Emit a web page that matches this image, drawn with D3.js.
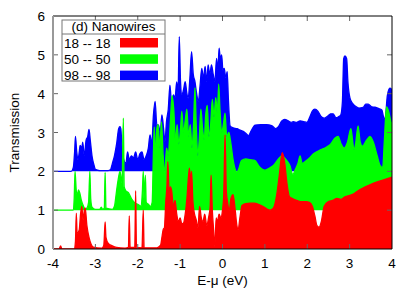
<!DOCTYPE html>
<html>
<head>
<meta charset="utf-8">
<script src="https://cdn.jsdelivr.net/npm/d3@7"></script>
<style>
  body { margin: 0; background: #fff; }
  svg text { font-family: "Liberation Sans", Arial, sans-serif; font-size: 13.5px; fill: #000; }
</style>
</head>
<body>
<div id="chart"></div>
<script>
// transmission curves, [E - mu, T] ; green and blue are already shifted by +1 / +2
const red18 = [
  [-4, 0], [-3.86, 0], [-3.82, 0.08], [-3.79, 0], [-3.5, 0], [-3.47, 0.2], [-3.45, 0.92], [-3.43, 0.4],
  [-3.38, 0.5], [-3.35, 0.9], [-3.32, 1.1], [-3.29, 0.75], [-3.26, 1.0], [-3.24, 1.06], [-3.2, 0.6],
  [-3.15, 0.3], [-3.1, 0.12], [-3.05, 0.05], [-2.85, 0.02], [-2.8, 0.1], [-2.77, 0.7], [-2.75, 0.3],
  [-2.7, 0.15], [-2.6, 0.08], [-2.5, 0.04], [-2.3, 0.02], [-2.22, 0.04], [-2.2, 0.85], [-2.18, 0.04],
  [-2.07, 0.04], [-2.05, 1.5], [-2.03, 0.04], [-1.9, 0.03], [-1.87, 1.0], [-1.85, 0.03], [-1.55, 0.03],
  [-1.5, 0.06], [-1.46, 0.1], [-1.43, 0.3], [-1.4, 0.5], [-1.37, 0.55], [-1.34, 1.2], [-1.31, 1.65],
  [-1.29, 2.25], [-1.26, 1.5], [-1.23, 1.6], [-1.2, 1.5], [-1.16, 1.1], [-1.12, 1.25], [-1.08, 0.9],
  [-1.04, 0.7], [-1.0, 0.8], [-0.96, 0.65], [-0.92, 0.67], [-0.88, 0.9], [-0.84, 1.3], [-0.8, 1.9],
  [-0.78, 2.08], [-0.75, 1.7], [-0.73, 2.0], [-0.7, 1.25], [-0.66, 0.9], [-0.62, 0.75], [-0.58, 0.55],
  [-0.54, 1.1], [-0.5, 0.8], [-0.46, 0.7], [-0.42, 0.9], [-0.37, 0.6], [-0.33, 0.8], [-0.29, 1.1],
  [-0.27, 1.9], [-0.24, 1.0], [-0.21, 0.5], [-0.18, 0.05], [-0.15, 0.8], [-0.12, 0.7], [-0.08, 0.9],
  [-0.04, 0.8], [0.0, 1.0], [0.03, 1.4], [0.06, 2.94], [0.09, 1.5], [0.12, 1.2], [0.16, 1.0],
  [0.2, 1.3], [0.25, 1.4], [0.3, 1.0], [0.34, 0.6], [0.37, 0.5], [0.41, 0.8], [0.46, 1.12],
  [0.55, 1.17], [0.65, 1.18], [0.75, 1.18], [0.85, 1.15], [0.95, 1.1], [1.05, 1.03], [1.12, 1.0],
  [1.2, 1.05], [1.28, 1.4], [1.34, 1.9], [1.41, 2.48], [1.47, 2.2], [1.52, 1.7], [1.58, 1.35],
  [1.65, 1.3], [1.75, 1.25], [1.85, 1.22], [1.97, 1.22], [2.05, 1.2], [2.12, 1.1], [2.18, 0.85],
  [2.23, 0.6], [2.28, 0.56], [2.33, 0.7], [2.4, 1.1], [2.5, 1.22], [2.6, 1.25], [2.7, 1.3],
  [2.8, 1.28], [2.9, 1.35], [3.0, 1.38], [3.1, 1.42], [3.2, 1.5], [3.37, 1.6], [3.57, 1.7],
  [3.8, 1.78], [4.0, 1.85]
];

const green50 = [
  [-4, 1], [-3.52, 1], [-3.5, 1.3], [-3.48, 2.0], [-3.45, 1.5], [-3.42, 1.4], [-3.4, 1.52],
  [-3.37, 1.45], [-3.33, 1.25], [-3.28, 1.1], [-3.24, 1.02], [-3.2, 1.05], [-3.16, 1.2], [-3.13, 2.0],
  [-3.11, 1.3], [-3.08, 1.08], [-3.0, 1.02], [-2.9, 1.02], [-2.86, 1.08], [-2.83, 1.02], [-2.79, 1.05],
  [-2.77, 1.97], [-2.75, 1.05], [-2.6, 1.02], [-2.55, 1.1], [-2.5, 1.5], [-2.46, 1.8], [-2.42, 2.0],
  [-2.37, 1.7], [-2.34, 3.37], [-2.32, 1.6], [-2.28, 1.5], [-2.22, 1.45], [-2.15, 1.3], [-2.08, 1.2],
  [-2.0, 1.15], [-1.92, 1.1], [-1.89, 1.5], [-1.87, 2.0], [-1.85, 1.3], [-1.82, 1.9], [-1.8, 1.2],
  [-1.75, 1.15], [-1.7, 1.1], [-1.66, 1.2], [-1.63, 2.5], [-1.61, 3.14], [-1.58, 2.3], [-1.55, 3.1],
  [-1.52, 3.2], [-1.48, 2.6], [-1.44, 3.27], [-1.4, 2.4], [-1.36, 2.0], [-1.32, 2.6], [-1.28, 2.4],
  [-1.23, 3.3], [-1.19, 3.95], [-1.15, 3.6], [-1.11, 2.8], [-1.07, 3.2], [-1.03, 2.7], [-0.99, 3.1],
  [-0.96, 3.55], [-0.92, 3.0], [-0.88, 3.3], [-0.84, 3.6], [-0.8, 2.9], [-0.76, 3.2], [-0.72, 2.6],
  [-0.68, 3.3], [-0.65, 4.15], [-0.62, 3.2], [-0.58, 2.4], [-0.55, 2.8], [-0.51, 3.6], [-0.47, 3.1],
  [-0.43, 2.8], [-0.4, 3.4], [-0.36, 3.7], [-0.32, 2.9], [-0.28, 3.2], [-0.24, 3.85], [-0.2, 3.4],
  [-0.16, 3.9], [-0.12, 3.5], [-0.09, 4.25], [-0.06, 3.6], [-0.02, 3.0], [0.02, 3.2], [0.06, 3.5],
  [0.1, 2.9], [0.15, 3.0], [0.2, 2.7], [0.25, 2.3], [0.3, 2.05], [0.34, 1.98], [0.38, 2.05],
  [0.45, 2.28], [0.55, 2.32], [0.65, 2.3], [0.76, 2.28], [0.87, 2.12], [1.0, 2.03], [1.1, 2.08],
  [1.2, 2.15], [1.32, 2.32], [1.4, 2.4], [1.5, 2.3], [1.59, 2.15], [1.66, 1.92], [1.72, 2.05],
  [1.78, 2.2], [1.83, 2.4], [1.88, 2.2], [1.95, 2.25], [2.06, 2.35], [2.15, 2.45], [2.22, 2.5],
  [2.3, 2.55], [2.45, 2.62], [2.55, 2.7], [2.65, 2.85], [2.73, 2.9], [2.8, 2.7], [2.87, 2.6],
  [2.95, 2.75], [3.03, 3.1], [3.07, 2.8], [3.1, 2.55], [3.14, 2.7], [3.2, 3.17], [3.25, 2.75],
  [3.3, 2.65], [3.4, 2.8], [3.48, 2.9], [3.56, 2.75], [3.65, 2.4], [3.72, 2.15], [3.78, 2.1],
  [3.82, 2.8], [3.87, 3.66], [3.92, 3.55], [3.97, 3.3], [4.0, 3.2]
];

const blue98 = [
  [-4, 2], [-3.57, 2], [-3.52, 2.1], [-3.49, 2.5], [-3.47, 2.9], [-3.44, 2.5], [-3.41, 2.3],
  [-3.38, 2.5], [-3.36, 2.67], [-3.32, 2.6], [-3.3, 2.75], [-3.26, 2.4], [-3.22, 2.8], [-3.18, 2.9],
  [-3.15, 3.08], [-3.12, 2.8], [-3.08, 2.4], [-3.03, 2.15], [-3.0, 2.05], [-2.9, 2.02], [-2.7, 2.02],
  [-2.64, 2.05], [-2.6, 2.2], [-2.55, 2.4], [-2.5, 2.7], [-2.45, 3.1], [-2.42, 3.15], [-2.4, 3.1],
  [-2.37, 2.6], [-2.33, 2.3], [-2.28, 2.2], [-2.24, 2.5], [-2.2, 2.3], [-2.15, 2.4], [-2.1, 2.35],
  [-2.05, 2.5], [-2.0, 2.3], [-1.95, 2.45], [-1.9, 2.5], [-1.85, 2.3], [-1.8, 2.4], [-1.75, 2.6],
  [-1.71, 2.94], [-1.67, 2.7], [-1.63, 3.45], [-1.59, 3.8], [-1.55, 3.2], [-1.51, 3.19], [-1.47, 3.0],
  [-1.43, 3.45], [-1.39, 3.1], [-1.36, 2.76], [-1.32, 3.3], [-1.28, 3.6], [-1.24, 4.22], [-1.2, 3.7],
  [-1.16, 3.97], [-1.12, 3.9], [-1.08, 4.3], [-1.05, 4.0], [-1.02, 5.47], [-0.99, 4.3], [-0.96, 3.97],
  [-0.92, 4.1], [-0.88, 4.31], [-0.84, 4.0], [-0.81, 3.88], [-0.77, 4.4], [-0.73, 5.08], [-0.69, 4.5],
  [-0.65, 4.31], [-0.61, 4.0], [-0.57, 3.8], [-0.53, 4.2], [-0.49, 4.65], [-0.45, 4.4], [-0.41, 4.7],
  [-0.37, 4.3], [-0.34, 4.74], [-0.3, 4.5], [-0.26, 4.74], [-0.22, 4.5], [-0.18, 4.31], [-0.14, 4.91],
  [-0.11, 4.6], [-0.08, 5.17], [-0.05, 4.9], [-0.02, 5.0], [0.01, 4.6], [0.04, 4.65], [0.08, 4.4],
  [0.11, 4.57], [0.14, 3.84], [0.18, 3.17], [0.25, 3.12], [0.34, 3.1], [0.42, 3.06], [0.49, 3.03],
  [0.55, 2.98], [0.61, 2.92], [0.68, 3.05], [0.77, 3.19], [0.9, 3.2], [1.04, 3.2], [1.16, 3.18],
  [1.25, 3.1], [1.32, 3.15], [1.4, 3.3], [1.47, 3.34], [1.55, 3.3], [1.62, 3.26], [1.67, 3.28],
  [1.75, 3.26], [1.83, 3.3], [1.92, 3.28], [1.99, 3.26], [2.06, 3.4], [2.12, 3.55], [2.18, 3.6],
  [2.25, 3.55], [2.32, 3.42], [2.4, 3.37], [2.48, 3.42], [2.55, 3.48], [2.61, 3.48], [2.68, 3.38],
  [2.73, 3.4], [2.79, 3.45], [2.83, 3.8], [2.86, 4.9], [2.89, 4.97], [2.93, 4.9], [2.96, 4.3],
  [3.01, 3.88], [3.07, 3.75], [3.13, 3.68], [3.22, 3.63], [3.32, 3.65], [3.38, 3.73], [3.44, 3.73],
  [3.52, 3.66], [3.6, 3.65], [3.68, 3.62], [3.76, 3.58], [3.8, 3.4], [3.82, 3.32], [3.85, 3.45],
  [3.89, 3.95], [3.95, 4.14], [4.0, 4.1]
];

const xTicks = [-4, -3, -2, -1, 0, 1, 2, 3, 4];
const yTicks = [0, 1, 2, 3, 4, 5, 6];
const legendTitle = '(d) Nanowires';
const legendLabels = ['18 -- 18', '50 -- 50', '98 -- 98'];

const width = 415;
const height = 291;
const margin = { top: 16, right: 23, bottom: 42, left: 53 };

const svg = d3.select('#chart')
  .append('svg')
  .attr('width', width)
  .attr('height', height);

const x = d3.scaleLinear().domain([-4, 4]).range([margin.left, width - margin.right]);
const y = d3.scaleLinear().domain([0, 6]).range([height - margin.bottom, margin.top]);

svg.append('clipPath').attr('id', 'plot')
  .append('rect')
  .attr('x', x(-4)).attr('y', y(6))
  .attr('width', x(4) - x(-4)).attr('height', y(0) - y(6));

const series = [
  { data: blue98, base: 2, color: '#0000ff' },
  { data: green50, base: 1, color: '#00ff00' },
  { data: red18, base: 0, color: '#ff0000' },
];

const plot = svg.append('g').attr('clip-path', 'url(#plot)');

series.forEach(s => {
  const area = d3.area()
    .x(d => x(d[0]))
    .y0(y(s.base))
    .y1(d => y(d[1]))
    .curve(d3.curveMonotoneX);
  const line = d3.line()
    .x(d => x(d[0]))
    .y(d => y(d[1]))
    .curve(d3.curveMonotoneX);
  plot.append('path').datum(s.data).attr('d', area).attr('fill', s.color);
  plot.append('path').datum(s.data).attr('d', line)
    .attr('fill', 'none').attr('stroke', s.color).attr('stroke-width', 1.3);
});

// ticks on all four sides, pointing in
const tickLen = 5;
const ticks = svg.append('g').attr('stroke', '#666').attr('stroke-width', 1);
xTicks.slice(1, -1).forEach(t => {
  ticks.append('line').attr('x1', x(t)).attr('x2', x(t)).attr('y1', y(0)).attr('y2', y(0) - tickLen);
  ticks.append('line').attr('x1', x(t)).attr('x2', x(t)).attr('y1', y(6)).attr('y2', y(6) + tickLen);
});
yTicks.slice(1, -1).forEach(t => {
  ticks.append('line').attr('x1', x(-4)).attr('x2', x(-4) + tickLen).attr('y1', y(t)).attr('y2', y(t));
  ticks.append('line').attr('x1', x(4)).attr('x2', x(4) - tickLen).attr('y1', y(t)).attr('y2', y(t));
});

// border
svg.append('line').attr('x1', x(-4)).attr('x2', x(4)).attr('y1', y(6)).attr('y2', y(6))
  .attr('stroke', '#000').attr('stroke-width', 1);
svg.append('line').attr('x1', x(4)).attr('x2', x(4)).attr('y1', y(6)).attr('y2', y(0))
  .attr('stroke', '#000').attr('stroke-width', 1);
svg.append('line').attr('x1', x(-4)).attr('x2', x(4)).attr('y1', y(0)).attr('y2', y(0))
  .attr('stroke', '#000').attr('stroke-width', 1);
svg.append('line').attr('x1', x(-4)).attr('x2', x(-4)).attr('y1', y(6)).attr('y2', y(0))
  .attr('stroke', '#999').attr('stroke-width', 2);

// tick labels
svg.append('g').selectAll('text')
  .data(xTicks)
  .join('text')
  .attr('x', d => x(d))
  .attr('y', 268)
  .attr('text-anchor', 'middle')
  .text(d => d);

svg.append('g').selectAll('text')
  .data(yTicks)
  .join('text')
  .attr('x', 45)
  .attr('y', d => y(d) + 5)
  .attr('text-anchor', 'end')
  .text(d => d);

svg.append('text')
  .attr('x', (x(-4) + x(4)) / 2)
  .attr('y', 285)
  .attr('text-anchor', 'middle')
  .text('E-μ (eV)');

svg.append('text')
  .attr('transform', `translate(19, ${(y(0) + y(6)) / 2}) rotate(-90)`)
  .attr('text-anchor', 'middle')
  .text('Transmission');

// legend
const legend = svg.append('g');
legend.append('rect')
  .attr('x', 62).attr('y', 20).attr('width', 103).attr('height', 61)
  .attr('fill', '#fff').attr('stroke', '#777').attr('stroke-width', 1);
legend.append('line')
  .attr('x1', 62).attr('x2', 165).attr('y1', 34).attr('y2', 34)
  .attr('stroke', '#777');
legend.append('text')
  .attr('x', 113.5).attr('y', 31)
  .attr('text-anchor', 'middle')
  .text(legendTitle);

const legendColors = ['#ff0000', '#00ff00', '#0000ff'];
legendLabels.forEach((lab, i) => {
  const yy = 38 + i * 16.3;
  legend.append('text').attr('x', 64).attr('y', yy + 9.5).text(lab);
  legend.append('rect')
    .attr('x', 120).attr('y', yy).attr('width', 38).attr('height', 9.5)
    .attr('fill', legendColors[i]);
});
</script>
</body>
</html>
